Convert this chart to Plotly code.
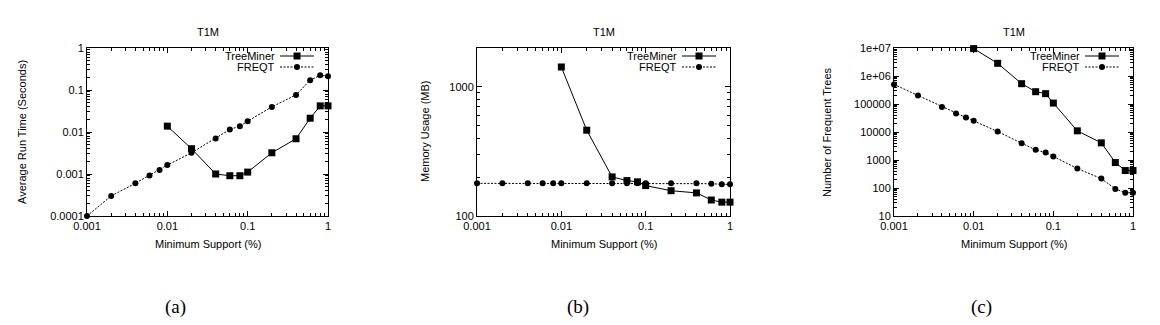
import plotly.graph_objects as go

# ---------------- data ----------------
support = [0.001, 0.002, 0.004, 0.006, 0.008, 0.01, 0.02, 0.04, 0.06, 0.08, 0.1, 0.2, 0.4, 0.6, 0.8, 1]
tm_support = [0.01, 0.02, 0.04, 0.06, 0.08, 0.1, 0.2, 0.4, 0.6, 0.8, 1]

runtime_freqt = [0.0001, 0.0003, 0.0006, 0.00092, 0.00124, 0.00163, 0.0032, 0.0070, 0.0115, 0.0138,
                 0.0181, 0.0396, 0.0764, 0.171, 0.224, 0.212]
runtime_tm = [0.0138, 0.0040, 0.0010, 0.00091, 0.00091, 0.00111, 0.0032, 0.0069, 0.0213, 0.0419, 0.0419]

memory_freqt = [179, 179, 179, 179, 179, 179, 179, 179, 179, 179, 179, 179, 179, 178, 176, 176]
memory_tm = [1427, 462, 201, 188, 184, 172, 157, 151, 133, 128, 128]

trees_freqt = [500000, 200000, 77600, 46000, 33000, 25000, 10400, 4000, 2300, 1850, 1330, 496, 217, 92.6, 68, 68]
trees_tm = [9.5e6, 2.84e6, 531000, 275000, 234000, 108000, 11000, 4100, 811, 420, 420]

x_ticks = [0.001, 0.01, 0.1, 1]
x_ticktext = ["0.001", "0.01", "0.1", "1"]
y1_ticks = [0.0001, 0.001, 0.01, 0.1, 1]
y1_ticktext = ["0.0001", "0.001", "0.01", "0.1", "1"]
y2_ticks = [100, 1000]
y2_ticktext = ["100", "1000"]
y3_ticks = [10, 100, 1000, 10000, 100000, 1e6, 1e7]
y3_ticktext = ["10", "100", "1000", "10000", "100000", "1e+06", "1e+07"]

titles = ["T1M", "T1M", "T1M"]
y_titles = ["Average Run Time (Seconds)", "Memory Usage (MB)", "Number of Frequent Trees"]
x_title = "Minimum Support (%)"
captions = ["(a)", "(b)", "(c)"]
series_names = ["TreeMiner", "FREQT"]

# ---------------- layout geometry (pixels) ----------------
W, H = 1160, 325
panels = [(87, 328), (477, 730), (894, 1133)]
ytop, ybot = 48, 216
ytitle_x = [22, 425, 827]
caption_x = [175, 578, 981]


def X(px):
    return px / W


def Y(py):
    return 1 - py / H


FONT = "Liberation Sans, Arial, sans-serif"
fig = go.Figure()

tm_style = dict(mode="lines+markers", line=dict(color="black", width=1),
                marker=dict(symbol="square", size=7, color="black"), cliponaxis=False, showlegend=False)
fq_style = dict(mode="lines+markers", line=dict(color="black", width=1, dash="2px,1.5px"),
                marker=dict(symbol="circle", size=6, color="black"), cliponaxis=False, showlegend=False)

data = [(runtime_tm, runtime_freqt), (memory_tm, memory_freqt), (trees_tm, trees_freqt)]
for i, (tm, fq) in enumerate(data):
    xa = "x" if i == 0 else f"x{i+1}"
    ya = "y" if i == 0 else f"y{i+1}"
    fig.add_trace(go.Scatter(x=support, y=fq, xaxis=xa, yaxis=ya, name=series_names[1], **fq_style))
    fig.add_trace(go.Scatter(x=tm_support, y=tm, xaxis=xa, yaxis=ya, name=series_names[0], **tm_style))

axis_common = dict(type="log", showgrid=False, zeroline=False, showline=True, linecolor="black",
                   linewidth=1, mirror="ticks", ticks="inside", ticklen=5, tickcolor="black",
                   automargin=False,
                   tickfont=dict(family=FONT, size=11, color="black"),
                   minor=dict(ticks="inside", ticklen=3, tickcolor="black", dtick="D1", showgrid=False))

yspecs = [(y1_ticks, y1_ticktext, [-4, 0]), (y2_ticks, y2_ticktext, [2, 3.3015]), (y3_ticks, y3_ticktext, [1, 7])]
layout = {}
for i, ((l, r), (yt, ytt, yr)) in enumerate(zip(panels, yspecs)):
    xk = "xaxis" if i == 0 else f"xaxis{i+1}"
    yk = "yaxis" if i == 0 else f"yaxis{i+1}"
    ya = "y" if i == 0 else f"y{i+1}"
    xa = "x" if i == 0 else f"x{i+1}"
    layout[xk] = dict(axis_common, domain=[X(l), X(r)], range=[-3, 0], anchor=ya,
                      tickmode="array", tickvals=x_ticks, ticktext=x_ticktext)
    layout[yk] = dict(axis_common, domain=[Y(ybot), Y(ytop)], range=yr, anchor=xa,
                      tickmode="array", tickvals=yt, ticktext=ytt)

annotations = []
shapes = []
base = dict(xref="paper", yref="paper", showarrow=False, xanchor="center", yanchor="middle")
for i, (l, r) in enumerate(panels):
    cx = (l + r) / 2
    annotations.append(dict(base, x=X(cx), y=Y(32), text=titles[i],
                            font=dict(family=FONT, size=11, color="black")))
    annotations.append(dict(base, x=X(cx), y=Y(244), text=x_title,
                            font=dict(family=FONT, size=11, color="black")))
    annotations.append(dict(base, x=X(ytitle_x[i]), y=Y((ytop + ybot) / 2),
                            text=y_titles[i], textangle=-90,
                            font=dict(family=FONT, size=11, color="black")))
    annotations.append(dict(base, x=X(caption_x[i]), y=Y(307), text=captions[i],
                            font=dict(family="Liberation Serif, Times New Roman, serif",
                                      size=19, color="black")))
    # legend (gnuplot style: text then sample)
    for j, (name, py) in enumerate(zip(series_names, [56, 67])):
        annotations.append(dict(base, x=X(r - 51), y=Y(py), text=name, xanchor="right",
                                font=dict(family=FONT, size=11, color="black")))
        dash = "solid" if j == 0 else "2px,1.5px"
        shapes.append(dict(type="line", xref="paper", yref="paper", x0=X(r - 48), x1=X(r - 14),
                           y0=Y(py), y1=Y(py), line=dict(color="black", width=1, dash=dash)))
        mx = r - 31
        if j == 0:
            shapes.append(dict(type="rect", xref="paper", yref="paper", x0=X(mx - 3.5), x1=X(mx + 3.5),
                               y0=Y(py + 3.5), y1=Y(py - 3.5), fillcolor="black", line=dict(width=0)))
        else:
            shapes.append(dict(type="circle", xref="paper", yref="paper", x0=X(mx - 3), x1=X(mx + 3),
                               y0=Y(py + 3), y1=Y(py - 3), fillcolor="black", line=dict(width=0)))

fig.update_layout(width=W, height=H, margin=dict(l=0, r=0, t=0, b=0, pad=0, autoexpand=False),
                  paper_bgcolor="white", plot_bgcolor="white",
                  annotations=annotations, shapes=shapes, **layout)

fig.write_html("out.html")
